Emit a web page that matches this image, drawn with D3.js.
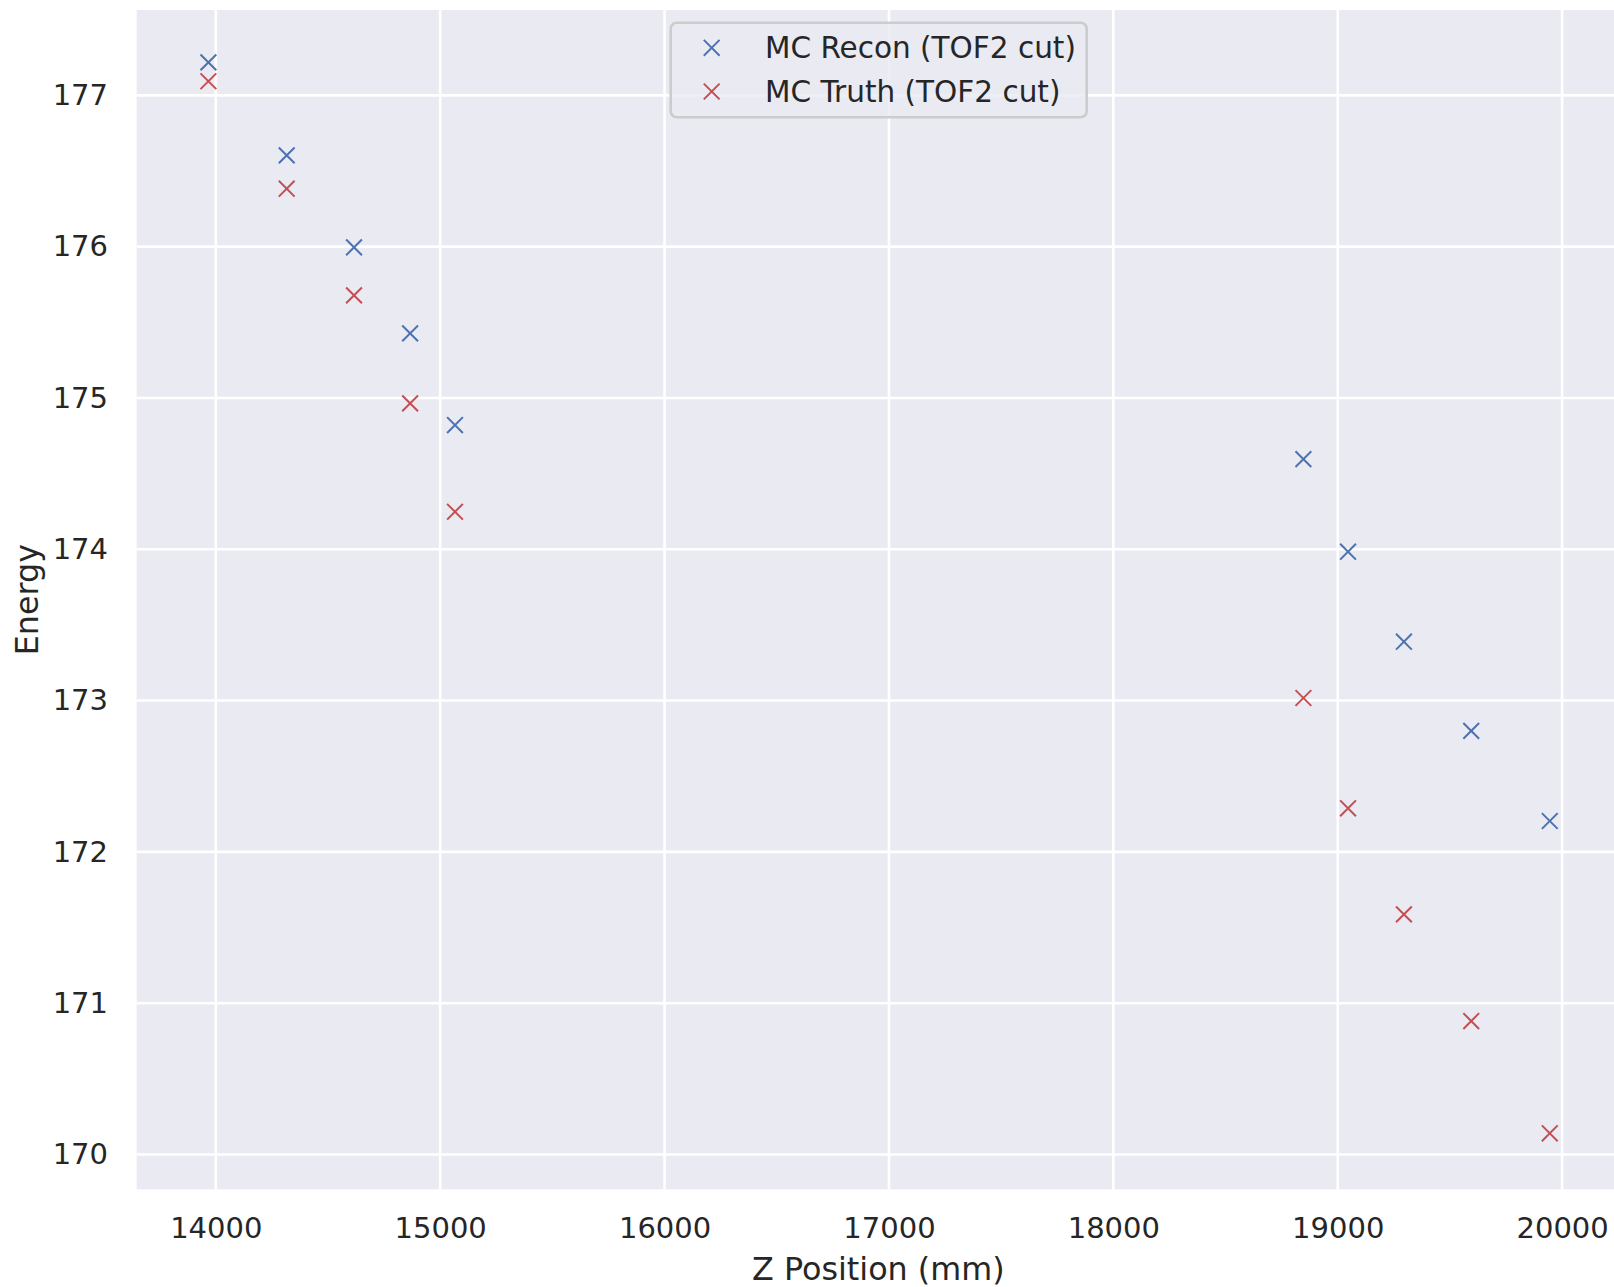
<!DOCTYPE html>
<html>
<head>
<meta charset="utf-8">
<script src="https://cdn.jsdelivr.net/npm/d3@7"></script>
<style>
  html, body { margin: 0; padding: 0; background: #ffffff; }
  svg { display: block; }
  text { font-family: "DejaVu Sans", sans-serif; fill: #262626; }
</style>
</head>
<body>
<script>
// ---- data ----
const zPositions = [13967, 14316, 14616, 14866, 15066, 18847, 19046, 19295, 19595, 19945];
const reconEnergy = [177.218, 176.603, 175.995, 175.427, 174.821, 174.596, 173.984, 173.389, 172.800, 172.204];
const truthEnergy = [177.093, 176.383, 175.678, 174.964, 174.248, 173.017, 172.288, 171.587, 170.882, 170.140];
const seriesNames = ["MC Recon (TOF2 cut)", "MC Truth (TOF2 cut)"];
const seriesColors = ["#4C72B0", "#C44E52"];
const xTicks = [14000, 15000, 16000, 17000, 18000, 19000, 20000];
const yTicks = [170, 171, 172, 173, 174, 175, 176, 177];

// ---- layout ----
const W = 1614, H = 1287;
const plot = { left: 136.7, top: 10, right: 1620, bottom: 1189.3 };

const svg = d3.select("body").append("svg").attr("width", W).attr("height", H);

const x = d3.scaleLinear().domain([13647.5, 20258]).range([plot.left, plot.right]);
const y = d3.scaleLinear().domain([169.77, 177.564]).range([plot.bottom, plot.top]);

svg.append("rect")
  .attr("x", plot.left).attr("y", plot.top)
  .attr("width", plot.right - plot.left).attr("height", plot.bottom - plot.top)
  .attr("fill", "#EAEAF2");

// grid
const grid = svg.append("g");
grid.selectAll("line.vx").data(xTicks).join("line")
  .attr("x1", d => x(d)).attr("x2", d => x(d))
  .attr("y1", plot.top).attr("y2", plot.bottom)
  .attr("stroke", "#ffffff").attr("stroke-width", 2.6);
grid.selectAll("line.hy").data(yTicks).join("line")
  .attr("x1", plot.left).attr("x2", plot.right)
  .attr("y1", d => y(d)).attr("y2", d => y(d))
  .attr("stroke", "#ffffff").attr("stroke-width", 2.6);

// axes
const xAxis = svg.append("g")
  .attr("transform", `translate(0,${plot.bottom})`)
  .call(d3.axisBottom(x).tickValues(xTicks).tickFormat(d3.format("d")).tickSize(0).tickPadding(28.2));
const yAxis = svg.append("g")
  .attr("transform", `translate(${plot.left},0)`)
  .call(d3.axisLeft(y).tickValues(yTicks).tickFormat(d3.format("d")).tickSize(0).tickPadding(28.7));
[xAxis, yAxis].forEach(a => {
  a.select(".domain").remove();
  a.selectAll("text").attr("font-size", 29).attr("font-family", "DejaVu Sans, sans-serif").attr("fill", "#262626");
});

// axis labels
svg.append("text")
  .attr("x", (plot.left + plot.right) / 2).attr("y", 1268)
  .attr("text-anchor", "middle").attr("dominant-baseline", "central")
  .attr("font-size", 31.8).text("Z Position (mm)");
svg.append("text")
  .attr("transform", `translate(26,${(plot.top + plot.bottom) / 2}) rotate(-90)`)
  .attr("text-anchor", "middle").attr("dominant-baseline", "central")
  .attr("font-size", 31.8).text("Energy");

// markers
const half = 7.9;
function xMark(g, cx, cy, color) {
  g.append("path")
    .attr("d", `M${cx - half},${cy - half}L${cx + half},${cy + half}M${cx - half},${cy + half}L${cx + half},${cy - half}`)
    .attr("stroke", color).attr("stroke-width", 2).attr("fill", "none");
}
const marks = svg.append("g");
const series = [reconEnergy, truthEnergy];
series.forEach((vals, si) => {
  vals.forEach((v, i) => xMark(marks, x(zPositions[i]), y(v), seriesColors[si]));
});

// legend
const lg = svg.append("g");
lg.append("rect")
  .attr("x", 670.7).attr("y", 22.7).attr("width", 416).attr("height", 94.6)
  .attr("rx", 6).attr("ry", 6)
  .attr("fill", "#EAEAF2").attr("fill-opacity", 0.8)
  .attr("stroke", "#cccccc").attr("stroke-width", 2.6);
const legendY = [47.8, 91.5];
seriesNames.forEach((name, i) => {
  xMark(lg, 711.7, legendY[i], seriesColors[i]);
  lg.append("text")
    .attr("x", 765).attr("y", legendY[i])
    .attr("dominant-baseline", "central")
    .attr("font-size", 29.5).text(name);
});
</script>
</body>
</html>
